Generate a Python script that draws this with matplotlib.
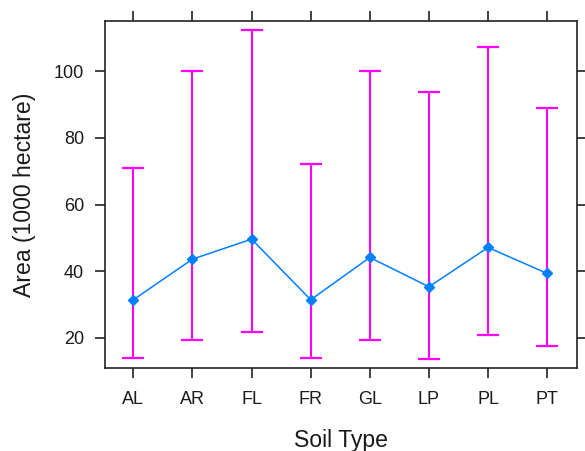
import matplotlib
matplotlib.use("Agg")
import matplotlib.pyplot as plt
import numpy as np

plt.rcParams['font.family'] = ['Liberation Sans', 'DejaVu Sans']

soil_types = ["AL", "AR", "FL", "FR", "GL", "LP", "PL", "PT"]
mean_area = [31.4, 43.6, 49.6, 31.4, 44.1, 35.3, 47.1, 39.3]
lower_area = [14.0, 19.2, 21.7, 14.0, 19.2, 13.5, 20.8, 17.4]
upper_area = [70.9, 100.0, 112.4, 72.2, 100.0, 93.8, 107.2, 89.1]
y_ticks = [20, 40, 60, 80, 100]

fig = plt.figure(figsize=(5.85, 4.51), dpi=100)
ax = fig.add_axes([105/585, 1 - 367.7/451, (576.7-105)/585, (367.7-21)/451])

x = np.arange(1, len(soil_types) + 1)
mean = np.array(mean_area)
lo = np.array(lower_area)
hi = np.array(upper_area)

ax.errorbar(x, mean, yerr=[mean - lo, hi - mean], fmt='none', ecolor='#FF00FF',
            elinewidth=1.5, capsize=8, capthick=1.6, zorder=2)
ax.plot(x, mean, color='#0080FF', lw=1.1, marker='D', markersize=5.5,
        markerfacecolor='#0080FF', markeredgecolor='#0080FF', zorder=3)

ax.set_xlim(0.52, 8.5)
ax.set_ylim(11.0, 115.1)
ax.set_xticks(x)
ax.set_xticklabels(soil_types)
ax.set_yticks(y_ticks)

for s in ax.spines.values():
    s.set_color('#222222')
    s.set_linewidth(1.2)

ax.tick_params(axis='x', which='both', top=True, bottom=True, labeltop=False,
               direction='out', length=7, width=1.2, color='#222222',
               labelsize=13, pad=10, labelcolor='#1a1a1a')
ax.tick_params(axis='y', which='both', left=True, right=True, labelright=False,
               direction='out', length=7, width=1.2, color='#222222',
               labelsize=13, pad=8, labelcolor='#1a1a1a')

ax.set_xlabel("Soil Type", fontsize=16.6, color='#1a1a1a', labelpad=15)
ax.set_ylabel("Area (1000 hectare)", fontsize=16.6, color='#1a1a1a', labelpad=13)

fig.savefig("out.png", dpi=100)
